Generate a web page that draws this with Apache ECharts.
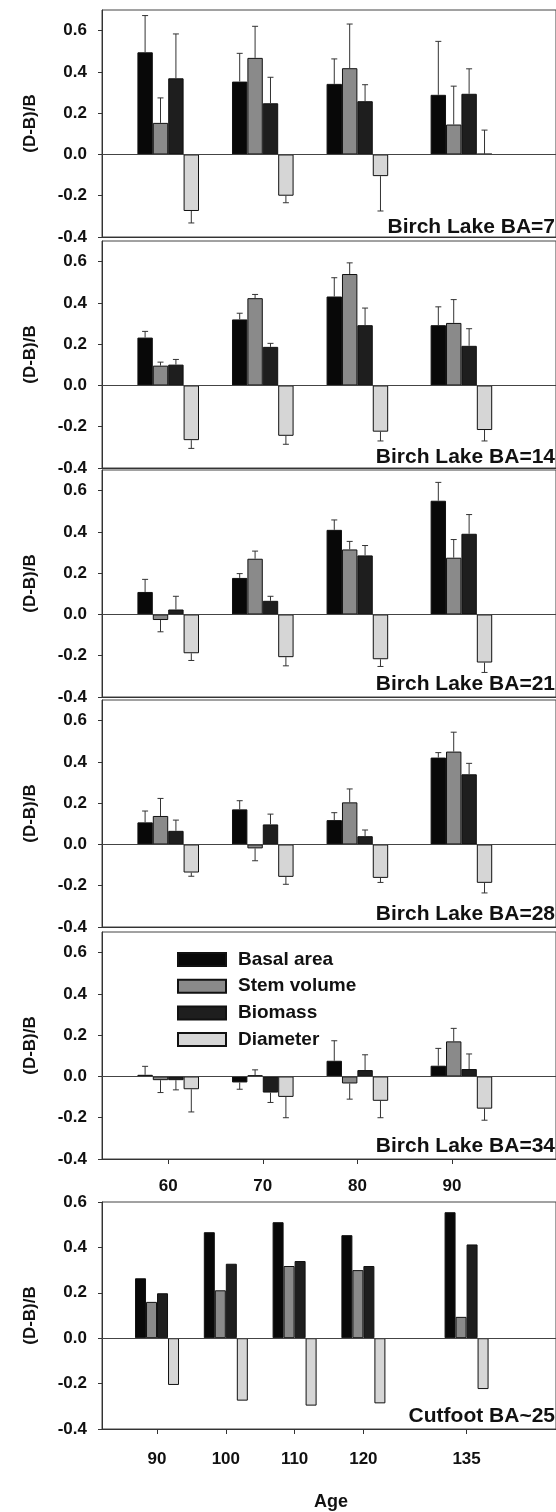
<!DOCTYPE html>
<html><head><meta charset="utf-8">
<script src="https://cdn.jsdelivr.net/npm/echarts@6/dist/echarts.min.js"></script>
<style>html,body{margin:0;padding:0;background:#fff}#c{width:556px;height:1512px}</style>
</head><body><div id="c"></div>
<script>
// ---------- DATA ----------
const measureNames = ['Basal area', 'Stem volume', 'Biomass', 'Diameter'];
const panelLabels = ['Birch Lake BA=7', 'Birch Lake BA=14', 'Birch Lake BA=21', 'Birch Lake BA=28', 'Birch Lake BA=34', 'Cutfoot BA~25'];
const birchTickLabels = [60, 70, 80, 90];
const birchAges = [60, 70, 80, 91];
const cutfootAges = [90, 100, 110, 120, 135];

// rows = Birch Lake panels (BA=7,14,21,28,34); columns = ages
const basalArea = [
  [0.495, 0.353, 0.342, 0.289],
  [0.232, 0.320, 0.431, 0.292],
  [0.109, 0.177, 0.410, 0.551],
  [0.107, 0.170, 0.118, 0.421],
  [0.008, -0.029, 0.076, 0.052]
];
const basalAreaErr = [
  [0.178, 0.137, 0.121, 0.259],
  [0.030, 0.030, 0.091, 0.089],
  [0.061, 0.021, 0.048, 0.089],
  [0.055, 0.042, 0.036, 0.024],
  [0.041, 0.033, 0.097, 0.084]
];
const stemVolume = [
  [0.153, 0.468, 0.418, 0.145],
  [0.096, 0.423, 0.540, 0.303],
  [-0.027, 0.270, 0.315, 0.275],
  [0.138, -0.019, 0.204, 0.450],
  [-0.018, 0.006, -0.034, 0.170]
];
const stemVolumeErr = [
  [0.121, 0.153, 0.214, 0.186],
  [0.017, 0.018, 0.054, 0.113],
  [0.057, 0.037, 0.039, 0.088],
  [0.085, 0.060, 0.065, 0.094],
  [0.060, 0.026, 0.076, 0.063]
];
const biomass = [
  [0.369, 0.248, 0.258, 0.294],
  [0.101, 0.187, 0.292, 0.192],
  [0.024, 0.066, 0.286, 0.391],
  [0.066, 0.097, 0.040, 0.340],
  [-0.018, -0.078, 0.031, 0.036]
];
const biomassErr = [
  [0.215, 0.126, 0.080, 0.121],
  [0.025, 0.017, 0.083, 0.083],
  [0.064, 0.022, 0.048, 0.093],
  [0.052, 0.050, 0.030, 0.053],
  [0.047, 0.048, 0.074, 0.073]
];
const diameter = [
  [-0.274, -0.200, -0.105, 0.003],
  [-0.265, -0.244, -0.224, -0.216],
  [-0.188, -0.207, -0.217, -0.233],
  [-0.136, -0.157, -0.162, -0.186],
  [-0.062, -0.099, -0.118, -0.156]
];
const diameterErr = [
  [0.058, 0.034, 0.169, 0.115],
  [0.040, 0.041, 0.045, 0.053],
  [0.035, 0.042, 0.035, 0.048],
  [0.018, 0.036, 0.022, 0.049],
  [0.110, 0.101, 0.082, 0.056]
];
// Cutfoot panel (no error bars)
const cutfootBasalArea = [0.264, 0.467, 0.511, 0.454, 0.555];
const cutfootStemVolume = [0.160, 0.211, 0.318, 0.300, 0.094];
const cutfootBiomass = [0.198, 0.328, 0.340, 0.318, 0.413];
const cutfootDiameter = [-0.206, -0.275, -0.297, -0.287, -0.224];

// ---------- STYLE / LAYOUT ----------
const FONT = 'Liberation Sans, Arial, Helvetica, sans-serif';
const colors = ['#080808', '#8a8a8a', '#1e1e1e', '#d6d6d6'];
const gridTops = [10, 241, 470, 700, 932, 1202];
const gridH = 227;
const labelY = [227, 457, 684, 914, 1146, 1416];

const chart = echarts.init(document.getElementById('c'), null, {renderer: 'canvas'});

const grids = [], xAxes = [], yAxes = [], series = [], graphics = [];
const lineCol = '#333';

function fmtY(v) { if (Math.abs(v) < 1e-9) v = 0; return v.toFixed(1); }

for (let p = 0; p < 6; p++) {
  const isCut = p === 5;
  grids.push({left: 102, top: gridTops[p], width: isCut ? 473 : 477, height: gridH,
    show: true, borderColor: '#444', borderWidth: 1, backgroundColor: 'transparent'});
  const showX = p >= 4;
  const ticks = isCut ? cutfootAges : birchTickLabels;
  xAxes.push({
    gridIndex: p, type: 'value', min: isCut ? 82 : 53, max: isCut ? 148 : 101,
    axisLine: {show: true, onZero: false, lineStyle: {color: lineCol, width: 1}},
    axisTick: {show: showX, customValues: ticks, length: 5, lineStyle: {color: lineCol}},
    axisLabel: {show: showX, customValues: ticks, margin: isCut ? 22 : 19, fontSize: 17, fontWeight: 'bold',
      color: '#111', fontFamily: FONT, formatter: v => String(v)},
    splitLine: {show: false}
  });
  yAxes.push({
    gridIndex: p, type: 'value', min: -0.4, max: isCut ? 0.6 : 0.7, interval: 0.2,
    axisLine: {show: true, lineStyle: {color: lineCol, width: 1}},
    axisTick: {show: true, length: 4, lineStyle: {color: lineCol}},
    axisLabel: {showMaxLabel: isCut, margin: 15, fontSize: 17, fontWeight: 'bold', color: '#111',
      fontFamily: FONT, formatter: fmtY},
    splitLine: {show: false},
    name: '(D-B)/B', nameLocation: 'middle', nameGap: 63, nameRotate: 90,
    nameTextStyle: {fontSize: 17, fontWeight: 'bold', color: '#111', fontFamily: FONT}
  });

  const ages = isCut ? cutfootAges : birchAges;
  const vals = isCut
    ? [cutfootBasalArea, cutfootStemVolume, cutfootBiomass, cutfootDiameter]
    : [basalArea[p], stemVolume[p], biomass[p], diameter[p]];
  const errs = isCut ? null : [basalAreaErr[p], stemVolumeErr[p], biomassErr[p], diameterErr[p]];
  const barW = isCut ? 11 : 15.4;

  for (let k = 0; k < 4; k++) {
    const s = {
      type: 'bar', name: measureNames[k], xAxisIndex: p, yAxisIndex: p,
      barWidth: barW, barGap: '0%',
      data: ages.map((a, i) => [a, vals[k][i]]),
      itemStyle: {color: colors[k], borderColor: '#111', borderWidth: 1},
      emphasis: {disabled: true}, animation: false, z: 3
    };
    if (k === 0) {
      s.markLine = {silent: true, symbol: 'none', label: {show: false}, animation: false,
        lineStyle: {color: '#444', width: 1, type: 'solid'}, data: [{yAxis: 0}]};
    }
    series.push(s);
  }
  if (errs) {
    for (let k = 0; k < 4; k++) {
      const kk = k;
      series.push({
        type: 'custom', xAxisIndex: p, yAxisIndex: p, z: 5, animation: false, silent: true,
        data: ages.map((a, i) => [a, vals[k][i], errs[k][i]]),
        renderItem: function (params, api) {
          const x = api.value(0), v = api.value(1), e = api.value(2);
          const dir = v >= 0 ? 1 : -1;
          const p0 = api.coord([x, v]);
          const p1 = api.coord([x, v + dir * e]);
          const cx = p0[0] + (kk - 1.5) * barW;
          const st = {stroke: '#333', lineWidth: 1};
          return {type: 'group', children: [
            {type: 'line', shape: {x1: cx, y1: p0[1], x2: cx, y2: p1[1]}, style: st},
            {type: 'line', shape: {x1: cx - 3, y1: p1[1], x2: cx + 3, y2: p1[1]}, style: st}
          ]};
        }
      });
    }
  }
  graphics.push({type: 'text', x: 555, y: labelY[p], z: 10,
    style: {text: panelLabels[p], font: 'bold 21px ' + FONT, fill: '#111', align: 'right', verticalAlign: 'middle'}});
}
graphics.push({type: 'text', x: 331, y: 1502, z: 10,
  style: {text: 'Age', font: 'bold 18px ' + FONT, fill: '#111', align: 'center', verticalAlign: 'middle'}});

chart.setOption({
  animation: false,
  backgroundColor: '#fff',
  grid: grids, xAxis: xAxes, yAxis: yAxes, series: series,
  legend: {
    show: true, orient: 'vertical', left: 172, top: 945, padding: 5,
    itemWidth: 48, itemHeight: 13, itemGap: 7.7, icon: 'rect',
    data: measureNames, selectedMode: false,
    textStyle: {fontSize: 19, fontWeight: 'bold', color: '#111', fontFamily: FONT, padding: [0, 0, 0, 7]}
  },
  graphic: graphics
});
</script></body></html>
